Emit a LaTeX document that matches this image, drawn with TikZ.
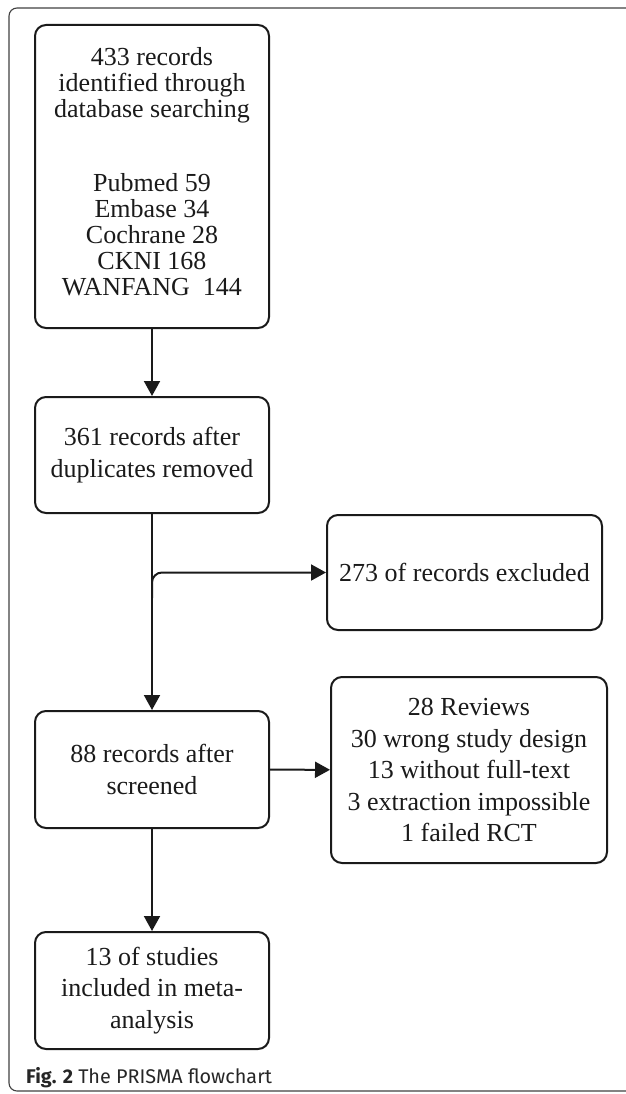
\documentclass[tikz,border=0pt]{standalone}
\usepackage{fontspec}
\setmainfont{Liberation Serif}
\newfontfamily\capfont{Fira Sans}
\usetikzlibrary{arrows.meta}
\definecolor{ink}{HTML}{1A1A1A}
\begin{document}
\begin{tikzpicture}[x=1pt,y=-1pt,
  flowbox/.style={draw=ink, line width=2pt, rounded corners=11pt, inner sep=0pt,
     align=center, font=\fontsize{26}{31.5}\selectfont, text=ink},
  conn/.style={draw=ink, line width=2pt, -{Triangle[width=16pt,length=15pt]}}]
\useasboundingbox (0,0) rectangle (625,1094);
% outer frame
\draw[line width=1.1pt, draw=black!75, rounded corners=8pt] (626,8) -- (9,8) -- (9,1091) -- (626,1091);

\node[flowbox, minimum width=234pt, minimum height=303pt] (b1) at (152,176.5) {};
\node[align=center, inner sep=0pt, text=ink, font=\fontsize{26}{26}\selectfont] (t1) at (152,171.5)
  {433 records\\identified through\\database searching\\[48pt]Pubmed 59\\Embase 34\\Cochrane 28\\CKNI 168\\WANFANG\ \ 144};

\node[flowbox, minimum width=234pt, minimum height=116pt] (b2) at (152,455) {361 records after\\duplicates removed};
\node[flowbox, minimum width=275pt, minimum height=115pt] (b3) at (464.5,572.5) {273 of records excluded};
\node[flowbox, minimum width=234pt, minimum height=117pt] (b4) at (152,769.5) {88 records after\\screened};
\node[flowbox, minimum width=276pt, minimum height=186pt] (b5) at (469,770) {28 Reviews\\30 wrong study design\\13 without full-text\\3 extraction impossible\\1 failed RCT};
\node[flowbox, minimum width=234pt, minimum height=117pt] (b6) at (152,990.5) {13 of studies\\included in meta-\\analysis};

\coordinate (split) at (152,598);
\draw[conn] (b1) -- (b2);
\draw[conn] (b2) -- (b4);
\draw[conn, rounded corners=10pt] (split) |- (b3.west);
\draw[conn] (b4) -- (b5);
\draw[conn] (b4) -- (b6);

\node[anchor=base west, inner sep=0pt, font=\capfont\fontsize{19.8}{22}\selectfont, text=black!85] (cap) at (26,1083)
  {\textbf{Fig. 2} The PRISMA flowchart};
\end{tikzpicture}
\end{document}
